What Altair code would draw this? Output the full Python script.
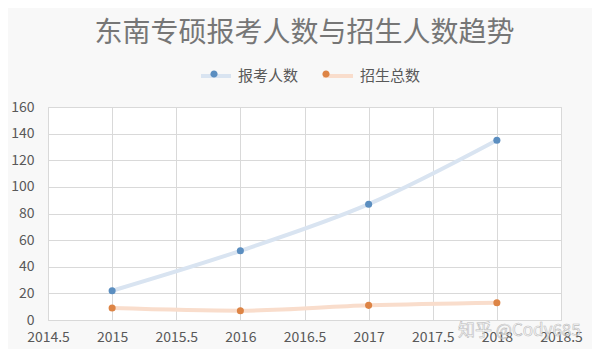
import altair as alt
import pandas as pd

years = [2015, 2016, 2017, 2018]
applicants = [22, 52, 87, 135]
admitted = [9, 7, 11, 13]
series_names = ["报考人数", "招生总数"]
x_ticks = [2014.5, 2015, 2015.5, 2016, 2016.5, 2017, 2017.5, 2018, 2018.5]
y_ticks = [0, 20, 40, 60, 80, 100, 120, 140, 160]

rows = []
for y, a, b in zip(years, applicants, admitted):
    rows.append({"year": y, "value": a, "series": series_names[0]})
    rows.append({"year": y, "value": b, "series": series_names[1]})
df = pd.DataFrame(rows)

FONT = "Noto Sans CJK SC"
line_colors = ["#d9e4f1", "#f9ddcc"]
point_colors = ["#5b8ec0", "#dd8445"]

x_enc = alt.X("year:Q", scale=alt.Scale(domain=[2014.5, 2018.5], nice=False, zero=False),
              axis=alt.Axis(values=x_ticks, format=".1~f", title=None, ticks=False,
                            labelPadding=10, domain=True, domainColor="#d9d9d9",
                            gridColor="#d9d9d9", labelFontSize=14, labelColor="#595959",
                            labelFont=FONT, labelOverlap=False, labelFlush=False,
                            tickCount=20))
y_enc = alt.Y("value:Q", scale=alt.Scale(domain=[0, 160], nice=False),
              axis=alt.Axis(values=y_ticks, title=None, ticks=False, domain=False,
                            labelPadding=14, gridColor="#d9d9d9", labelFontSize=14,
                            labelColor="#595959", labelFont=FONT, labelOverlap=False,
                            labelFlush=False, tickCount=20))

leg_common = dict(orient="none", legendX=151, legendY=-48, direction="horizontal",
                  title=None, labelFontSize=15, labelColor="#595959", labelFont=FONT,
                  symbolSize=900, labelOffset=5, columnPadding=16)

lines = alt.Chart(df).mark_line(interpolate="monotone", strokeWidth=4, strokeCap="round").encode(
    x=x_enc, y=y_enc,
    color=alt.Color("series:N", sort=series_names,
                    scale=alt.Scale(domain=series_names, range=line_colors),
                    legend=alt.Legend(symbolType="stroke", symbolStrokeWidth=4, **leg_common)),
)

points = alt.Chart(df).mark_point(filled=True, size=50, opacity=1).encode(
    x="year:Q", y="value:Q",
    color=alt.Color("series:N", sort=series_names,
                    scale=alt.Scale(domain=series_names, range=point_colors),
                    legend=alt.Legend(symbolType="M-0.24,0a0.24,0.24 0 1,0 0.48,0a0.24,0.24 0 1,0 -0.48,0Z",
                                      symbolStrokeWidth=0, symbolOpacity=1,
                                      labelOpacity=0, **leg_common)),
)

watermark = alt.Chart(pd.DataFrame({"t": ["知乎 @Cody685"]})).mark_text(
    align="left", baseline="middle", fontSize=17, font=FONT, fill="white",
    stroke="#a8a8a8", strokeWidth=0.6, opacity=0.75
).encode(text="t:N", x=alt.value(410), y=alt.value(224))

chart = alt.layer(lines, points, watermark).resolve_scale(color="independent").resolve_legend(
    color="independent"
).properties(
    width=513, height=213,
    title=alt.TitleParams("东南专硕报考人数与招生人数趋势", font=FONT, fontSize=28,
                          fontWeight="normal", color="#767676", anchor="middle", offset=11),
    autosize=alt.AutoSizeParams(type="none"),
    padding={"left": 40, "top": 99, "right": 31, "bottom": 29},
    background="#f8f8f8",
).configure_view(stroke="#d9d9d9", fill="white")

chart.save("out.html", embed_options={"renderer": "svg", "actions": False})
